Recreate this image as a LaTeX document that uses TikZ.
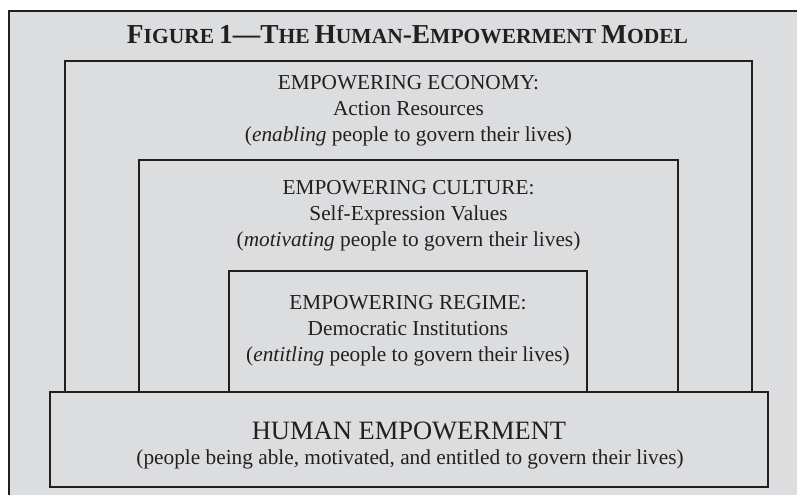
\documentclass[tikz,border=0pt]{standalone}
\usepackage{fontspec}
\setmainfont{Liberation Serif}
\definecolor{panel}{HTML}{DCDDDF}
\definecolor{ink}{HTML}{231F20}
\newcommand{\tsc}[2]{{\fontsize{13.7}{16}\selectfont #1}{\fontsize{10.75}{16}\selectfont #2}}
\begin{document}
\begin{tikzpicture}[x=0.5pt,y=-0.5pt, line join=miter,
  frame/.style={draw=ink, line width=1.1pt},
  boxline/.style={draw=ink, fill=panel, line width=1.2pt},
  txt/.style={text=ink, align=center, font=\fontsize{10.65}{13}\selectfont, inner sep=0pt}]
\useasboundingbox (0,0) rectangle (797,495);
\fill[panel] (9,11) rectangle (797,495);
\draw[frame] (9,495) -- (9,11) -- (797,11);
\node[text=ink, font=\bfseries, anchor=base, inner sep=0pt] (title) at (407.5,43)
  {\tsc{F}{IGURE} \tsc{1—T}{HE} \tsc{H}{UMAN}\tsc{-E}{MPOWERMENT} \tsc{M}{ODEL}};
\draw[boxline] (65,61) rectangle (752,392);
\draw[boxline] (139,160) rectangle (678,392);
\draw[boxline] (229,271) rectangle (587,392);
\draw[boxline] (50,392) rectangle (768,487);
\node[txt] (econ) at (408.5,110.5) {EMPOWERING ECONOMY:\\Action Resources\\(\textit{enabling} people to govern their lives)};
\node[txt] (cult) at (408.5,216) {EMPOWERING CULTURE:\\Self-Expression Values\\(\textit{motivating} people to govern their lives)};
\node[txt] (regime) at (408,331) {EMPOWERING REGIME:\\Democratic Institutions\\(\textit{entitling} people to govern their lives)};
\node[txt, font=\fontsize{13.25}{15}\selectfont] (human) at (409,430.5) {HUMAN EMPOWERMENT};
\node[txt] (humansub) at (410,459.5) {(people being able, motivated, and entitled to govern their lives)};
\end{tikzpicture}
\end{document}
